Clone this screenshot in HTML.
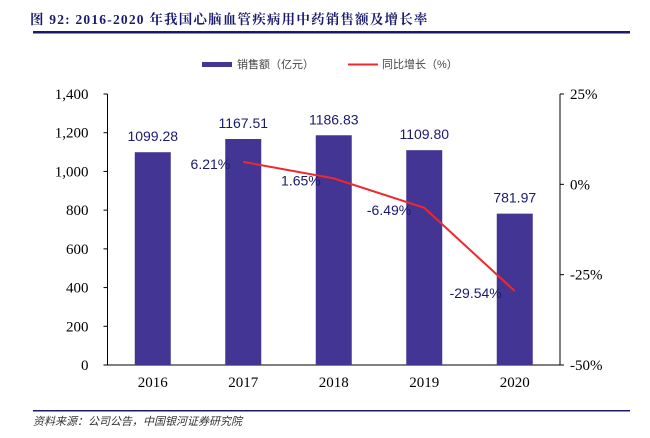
<!DOCTYPE html>
<html><head><meta charset="utf-8"><style>
body{margin:0;width:650px;height:438px;background:#fff;overflow:hidden;font-family:"Liberation Serif","Noto Serif CJK SC",serif}
svg{position:absolute;left:0;top:0}
</style></head><body>
<svg width="650" height="438">
<text x="30" y="24" font-size="13.5" font-weight="bold" fill="#1a1a6e" letter-spacing="1.2" font-family="'Liberation Serif','Noto Serif CJK SC',serif">图 92:  2016-2020 年我国心脑血管疾病用中药销售额及增长率</text>
<rect x="33" y="31" width="597" height="2.5" fill="#1a1a6e"/>
<g font-family="'Liberation Sans','Noto Sans CJK SC',sans-serif" font-size="11" fill="#444">
<rect x="202" y="62" width="30" height="5" fill="#433594"/>
<text x="237" y="68">销售额（亿元）</text>
<line x1="348" y1="64.5" x2="378" y2="64.5" stroke="#f0282d" stroke-width="2"/>
<text x="382" y="68">同比增长（%）</text>
</g>
<g id="plot"></g>
<rect x="33" y="410" width="597" height="1.5" fill="#1a1a6e"/>
<text x="33" y="425" font-size="11" font-style="italic" fill="#333" font-family="'Liberation Sans','Noto Sans CJK SC',sans-serif">资料来源：公司公告，中国银河证券研究院</text>
</svg>
<script>
const categories=["2016","2017","2018","2019","2020"];
const sales=[1099.28,1167.51,1186.83,1109.80,781.97];
const growth=[null,6.21,1.65,-6.49,-29.54];
const leftTicks=[0,200,400,600,800,1000,1200,1400];
const rightTicks=[25,0,-25,-50];
const L=107.5,R=560,T=94,B=365;
const y=v=>B-(v/1400)*(B-T);
const yr=v=>T+(25-v)/75*(B-T);
const bw=(R-L)/categories.length;
const xc=i=>L+bw*(i+0.5);
const NS="http://www.w3.org/2000/svg";
const g=document.getElementById('plot');
function mk(t,a,txt){const e=document.createElementNS(NS,t);for(const k in a)e.setAttribute(k,a[k]);if(txt!=null)e.textContent=txt;g.appendChild(e);return e;}
let e;
e=mk('line',{x1:L,y1:T,x2:L,y2:B,stroke:'#000','stroke-width':1});


e=mk('line',{x1:R,y1:T,x2:R,y2:B,stroke:'#000','stroke-width':1});


e=mk('line',{x1:L,y1:B,x2:R,y2:B,stroke:'#000','stroke-width':1});


leftTicks.forEach(v=>{
 e=mk('line',{x1:L-4,y1:y(v),x2:L,y2:y(v),stroke:'#000'});
 
 
 e=mk('text',{x:L-19,y:y(v)+5,'text-anchor':'end','font-size':15,fill:'#000'},v.toLocaleString('en-US'));
 
 
});
rightTicks.forEach(v=>{
 e=mk('line',{x1:R,y1:yr(v),x2:R+4,y2:yr(v),stroke:'#000'});
 
 
 e=mk('text',{x:R+10,y:yr(v)+5,'font-size':15,fill:'#000'},v+'%');
 
 
});
categories.forEach((c,i)=>{
 e=mk('rect',{x:xc(i)-18,y:y(sales[i]),width:36,height:B-y(sales[i]),fill:'#433594'});
 
 
 e=mk('text',{x:xc(i),y:y(sales[i])-11,'text-anchor':'middle','font-size':14,fill:'#1a1a6e','font-family':'Liberation Sans,sans-serif'},sales[i].toFixed(2));
 
 
 e=mk('text',{x:xc(i),y:B+22,'text-anchor':'middle','font-size':15,fill:'#000'},c);
 
 
});
const pts=[];growth.forEach((v,i)=>{if(v!=null)pts.push([xc(i),yr(v),v]);});
e=mk('polyline',{points:pts.map(p=>p[0]+','+p[1]).join(' '),fill:'none',stroke:'#f0282d','stroke-width':2});


pts.forEach(p=>{
 e=mk('text',{x:p[0]-13,y:p[1]+7,'text-anchor':'end','font-size':14,fill:'#1a1a6e','font-family':'Liberation Sans,sans-serif'},p[2].toFixed(2)+'%');
 
 
});
</script>
</body></html>
